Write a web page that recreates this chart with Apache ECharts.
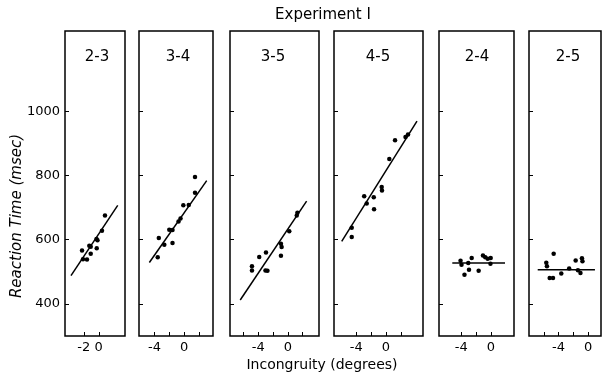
<!DOCTYPE html>
<html>
<head>
<meta charset="utf-8">
<script src="https://cdn.jsdelivr.net/npm/echarts@6/dist/echarts.min.js"></script>
<style>html,body{margin:0;padding:0;background:#fff}#c{width:603px;height:376px}</style>
</head>
<body>
<div id="c"></div>
<script>
const chartTitle = 'Experiment I';
const xAxisTitle = 'Incongruity (degrees)';
const yAxisTitle = 'Reaction Time (msec)';
const panelNames = ['2-3', '3-4', '3-5', '4-5', '2-4', '2-5'];
const yTickValues = [400, 600, 800, 1000];
const xTickValues = [[-2, 0], [-4, -2, 0, 2], [-6, -4, -2, 0, 2], [-4, -2, 0, 2], [-4, -2, 0], [-6, -4, -2, 0]];
const xLabelValues = [[-2, 0], [-4, 0], [-4, 0], [-4, 0], [-4, 0], [-4, 0]];

// data points [incongruity, RT]
const pts23 = [[-2.23, 566], [-2.1, 539], [-1.57, 538], [-1.26, 581], [-1.07, 578], [-1.07, 556], [-0.3, 602], [-0.17, 598], [-0.27, 573], [0.43, 628], [0.83, 675]];
const pts34 = [[-3.57, 545], [-3.42, 605], [-2.68, 584], [-2.01, 631], [-1.57, 630], [-1.57, 590], [-0.76, 657], [-0.49, 666], [-0.11, 707], [0.62, 708], [1.47, 746], [1.47, 795]];
const pts35 = [[-4.84, 517], [-4.84, 504], [-3.86, 546], [-2.95, 560], [-3.02, 504], [-2.75, 503], [-0.93, 587], [-0.84, 577], [-0.93, 550], [0.19, 626], [1.2, 675], [1.29, 684]];
const pts45 = [[-4.61, 637], [-4.61, 608], [-2.93, 735], [-2.59, 713], [-1.64, 732], [-1.6, 695], [-0.57, 764], [-0.53, 753], [0.46, 851], [1.23, 910], [2.64, 920], [2.98, 928]];
const pts24 = [[-4.1, 534], [-3.97, 522], [-3.06, 527], [-2.6, 543], [-3.57, 491], [-2.96, 506], [-1.66, 503], [-1.08, 551], [-0.77, 545], [-0.44, 541], [-0.04, 543], [-0.07, 525]];
const pts25 = [[-5.66, 528], [-5.57, 517], [-4.66, 556], [-5.2, 481], [-4.75, 481], [-3.63, 495], [-2.56, 510], [-1.68, 535], [-1.37, 505], [-0.83, 542], [-0.76, 533], [-1.03, 496]];

// regression line endpoints
const fit23 = [[-3.7, 488], [2.53, 707]];
const fit34 = [[-4.7, 529], [3.05, 784]];
const fit35 = [[-6.42, 412], [2.53, 720]];
const fit45 = [[-5.96, 595], [4.19, 969]];
const fit24 = [[-5.21, 527], [1.89, 527]];
const fit25 = [[-6.82, 506], [0.93, 506]];

const allPts = [pts23, pts34, pts35, pts45, pts24, pts25];
const allFits = [fit23, fit34, fit35, fit45, fit24, fit25];

// layout
const gridLeft = [65, 139, 230, 334, 439, 529];
const gridWidth = [60, 74, 89, 89, 75, 72];
const xMin = [-4.5, -6.1, -7.8, -7, -7, -8];
const xMax = [3.5, 3.9, 4.2, 5, 3.1, 1.75];
const labelCenters = [97, 178, 273, 378, 477, 568];

const FONT = 'DejaVu Sans';
const grids = [], xAxes = [], yAxes = [], series = [], titles = [];

titles.push({
  text: chartTitle, left: 323, top: 8, textAlign: 'center', padding: 0,
  textStyle: { fontFamily: FONT, fontSize: 15, fontWeight: 'normal', color: '#000' }
});

for (let i = 0; i < 6; i++) {
  grids.push({ left: gridLeft[i], width: gridWidth[i], top: 31, height: 305, show: true, borderColor: '#000', borderWidth: 1.5, backgroundColor: 'transparent' });
  xAxes.push({
    type: 'value', gridIndex: i, min: xMin[i], max: xMax[i], position: 'bottom',
    axisLine: { show: false, onZero: false }, splitLine: { show: false },
    axisTick: { show: true, inside: true, length: 4, lineStyle: { color: '#000', width: 1 }, customValues: xTickValues[i] },
    axisLabel: { show: true, color: '#000', fontFamily: FONT, fontSize: 13, margin: 5, customValues: xLabelValues[i], formatter: v => String(v) }
  });
  yAxes.push({
    type: 'value', gridIndex: i, min: 300, max: 1250, position: 'left',
    axisLine: { show: false, onZero: false }, splitLine: { show: false },
    axisTick: { show: true, inside: true, length: 4, lineStyle: { color: '#000', width: 1 }, customValues: yTickValues },
    axisLabel: { show: i === 0, color: '#000', fontFamily: FONT, fontSize: 13, margin: 5, customValues: yTickValues, formatter: v => String(v) }
  });
  series.push({
    type: 'scatter', xAxisIndex: i, yAxisIndex: i, data: allPts[i],
    symbol: 'circle', symbolSize: 4.5, itemStyle: { color: '#000', opacity: 1 }, silent: true
  });
  series.push({
    type: 'line', xAxisIndex: i, yAxisIndex: i, data: allFits[i],
    symbol: 'none', lineStyle: { color: '#000', width: 1.5 }, silent: true
  });
  titles.push({
    text: panelNames[i], left: labelCenters[i], top: 50, textAlign: 'center', padding: 0,
    textStyle: { fontFamily: FONT, fontSize: 15, fontWeight: 'normal', color: '#000' }
  });
}

const chart = echarts.init(document.getElementById('c'), null, { renderer: 'canvas' });
chart.setOption({
  animation: false,
  backgroundColor: '#fff',
  title: titles,
  grid: grids,
  xAxis: xAxes,
  yAxis: yAxes,
  series: series,
  graphic: [
    { type: 'text', x: 322, y: 365, style: { text: xAxisTitle, font: '14px "DejaVu Sans"', fill: '#000', align: 'center', verticalAlign: 'middle' } },
    { type: 'text', x: 17, y: 216, rotation: Math.PI / 2, style: { text: yAxisTitle, font: 'italic 15px "DejaVu Sans"', fill: '#000', align: 'center', verticalAlign: 'middle' } }
  ]
});
</script>
</body>
</html>
